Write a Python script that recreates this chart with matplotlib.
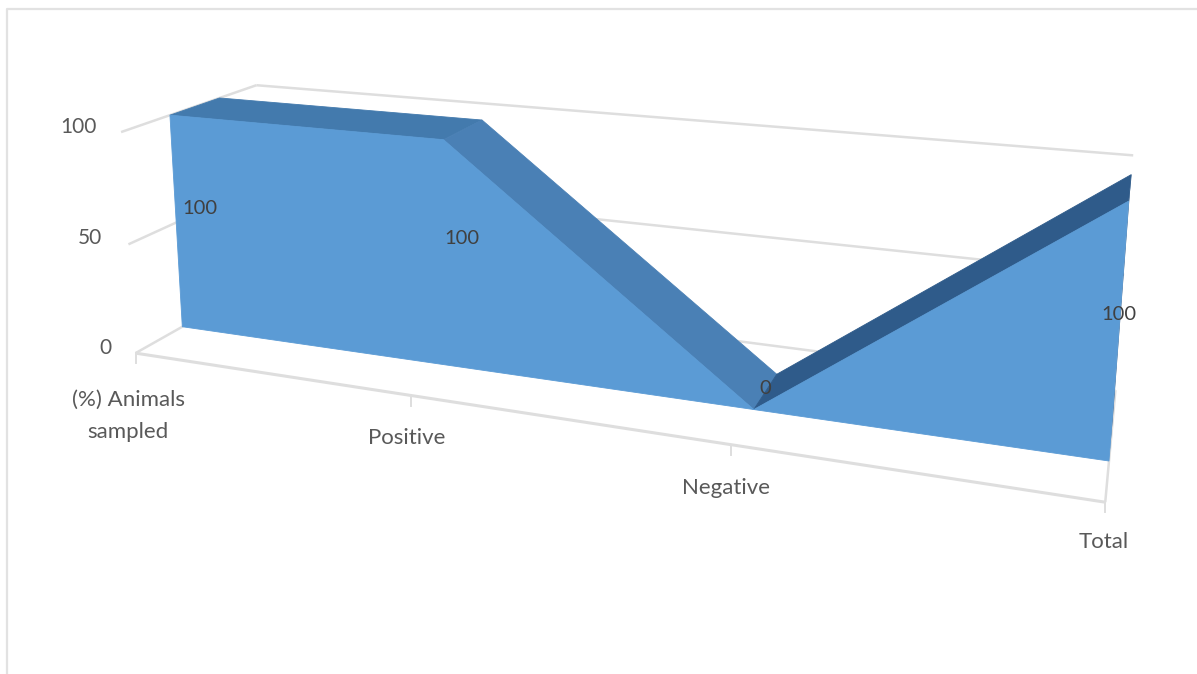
#!/usr/bin/env python3
# -*- coding: utf-8 -*-
import numpy as np
import matplotlib
matplotlib.use('Agg')
import matplotlib.pyplot as plt
from matplotlib.patches import Polygon

# Chart data
categories = ['(%) Animals\nsampled', 'Positive', 'Negative', 'Total']
values = [100, 100, 0, 100]
y_ticks = [0, 50, 100]

# Depth of the area inside the floor (0 = front edge, 1 = back wall)
z_front = 0.33
z_back = 0.7

# Camera fit: (category, value, depth) -> pixel position on the canvas
cam_world = [(0, 100, 0), (0, 100, 1), (3, 100, 1), (0, 50, 0), (0, 0, 0), (3, 0, 0), (1, 0, 0),
             (0, 0, z_front), (0, 100, z_front), (0, 100, z_back), (1, 100, z_front), (1, 100, z_back),
             (2, 0, z_front), (2, 0, z_back), (3, 0, z_front), (3, 100, z_front), (3, 100, z_back)]
cam_pixel = [(122, 132), (257, 85), (1133, 155), (129, 243), (137, 352), (1107, 500), (413, 398),
             (180, 328), (168, 115), (220, 99), (440, 139), (485, 120),
             (752, 410), (777, 372), (1108, 463), (1128, 202), (1132, 175)]


def fit_camera(world, pixel):
    # direct linear transform, least squares with the last term fixed at 1
    A = []
    b = []
    for (X, Y, Z), (u, v) in zip(world, pixel):
        A.append([X, Y, Z, 1, 0, 0, 0, 0, -u*X, -u*Y, -u*Z])
        A.append([0, 0, 0, 0, X, Y, Z, 1, -v*X, -v*Y, -v*Z])
        b.extend([u, v])
    p = np.linalg.lstsq(np.array(A, float), np.array(b, float), rcond=None)[0]
    return np.append(p, 1).reshape(3, 4)


P = fit_camera(cam_world, cam_pixel)


def project(x, v, z):
    h = P @ np.array([x, v, z, 1.0])
    return h[0]/h[2], h[1]/h[2]


GRID = '#DEDEDE'
TEXT = '#595959'
plt.rcParams['font.family'] = ['Lato', 'DejaVu Sans']

fig = plt.figure(figsize=(11.97, 6.74), dpi=100)
ax = fig.add_axes([0, 0, 1, 1])
ax.set_xlim(0, 1197)
ax.set_ylim(674, 0)
ax.axis('off')

# Chart frame, only the top and left sides show
ax.plot([1197, 7, 7], [8.5, 8.5, 674], color='#E2E2E2', lw=1.6, zorder=1)

nx = len(categories) - 1


def line3d(a, b, lw=1.8):
    pa = project(*a)
    pb = project(*b)
    ax.plot([pa[0], pb[0]], [pa[1], pb[1]], color=GRID, lw=lw, zorder=2, solid_capstyle='butt')


# Walls and floor
for t in y_ticks:
    line3d((0, t, 0), (0, t, 1))
    line3d((0, t, 1), (nx, t, 1))
line3d((0, 0, 0), (nx, 0, 0), lw=2.2)
line3d((nx, 0, 0), (nx, 0, 1))

# Tick marks under the front floor edge
for i in range(len(categories)):
    px, py = project(i, 0, 0)
    ax.plot([px, px], [py, py + 10], color=GRID, lw=1.4, zorder=2)

# Top faces of the area, one shade per segment
top_colors = ['#437AAD', '#4A80B5', '#2F5B8A']
for i in range(nx):
    quad = [project(i, values[i], z_front), project(i + 1, values[i + 1], z_front),
            project(i + 1, values[i + 1], z_back), project(i, values[i], z_back)]
    ax.add_patch(Polygon(quad, closed=True, fc=top_colors[i], ec=top_colors[i], lw=0.6, zorder=3))

# Right end of the area, just a sliver from this viewpoint
end = [project(nx, 0, z_front), project(nx, values[nx], z_front),
       project(nx, values[nx], z_back), project(nx, 0, z_back)]
ax.add_patch(Polygon(end, closed=True, fc='#2F5B8A', ec='none', zorder=3))

# Front face of the area
front = [project(0, 0, z_front)]
front += [project(i, values[i], z_front) for i in range(len(values))]
front += [project(nx, 0, z_front)]
ax.add_patch(Polygon(front, closed=True, fc='#5B9BD5', ec='#5B9BD5', lw=0.6, zorder=4))

# Value axis labels
for t, (px, py) in zip(y_ticks, [(105, 348), (90, 238), (78, 127)]):
    ax.text(px, py, str(t), color=TEXT, fontsize=15, ha='center', va='center', zorder=6)

# Category labels
cat_pos = [(128, 416), (407, 438), (726, 488), (1104, 542)]
for name, (px, py) in zip(categories, cat_pos):
    ax.text(px, py, name, color=TEXT, fontsize=16, ha='center', va='center', linespacing=1.75, zorder=6)

# Data labels
label_pos = [(200, 209), (462, 239), (765, 389), (1119, 314)]
for v, (px, py) in zip(values, label_pos):
    ax.text(px, py, str(v), color='#404040', fontsize=14.5, ha='center', va='center', zorder=6)

fig.savefig('out.png', dpi=100)
